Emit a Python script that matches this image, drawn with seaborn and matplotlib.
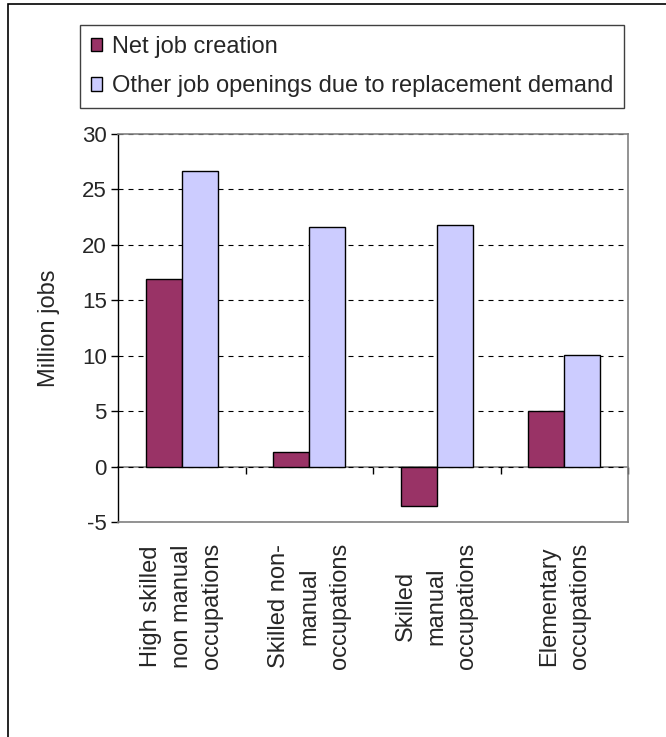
import pandas as pd
import matplotlib
matplotlib.use('Agg')
import matplotlib.pyplot as plt
import matplotlib.patches as mpatches
import seaborn as sns

# Dados
categorias = ['High skilled\nnon manual\noccupations',
              'Skilled non-\nmanual\noccupations',
              'Skilled\nmanual\noccupations',
              'Elementary\noccupations']
net_job = [16.9, 1.3, -3.6, 5.0]
replacement = [26.7, 21.6, 21.8, 10.1]
series = ['Net job creation', 'Other job openings due to replacement demand']
cores = ['#993366', '#CCCCFF']

df = pd.DataFrame({
    'categoria': categorias * 2,
    'valor': net_job + replacement,
    'serie': [series[0]] * 4 + [series[1]] * 4,
})

sns.set_style('white')
plt.rcParams['font.family'] = ['Liberation Sans', 'DejaVu Sans']
plt.rcParams['font.size'] = 17
plt.rcParams['axes.unicode_minus'] = False

W, H = 666, 737
fig = plt.figure(figsize=(W / 100, H / 100), dpi=100)
ax = fig.add_axes([118 / W, 1 - 522 / H, 510 / W, 388 / H])

sns.barplot(data=df, x='categoria', y='valor', hue='serie', palette=cores,
            width=0.565, edgecolor='black', linewidth=1.0, ax=ax,
            legend=False, errorbar=None, saturation=1)

ax.set_ylim(-5, 30)
ax.set_xlim(-0.5, 3.5)
ax.set_yticks(range(-5, 31, 5))
ax.set_ylabel('Million jobs', fontsize=17, labelpad=16)
ax.set_xlabel('')

# grade tracejada
ax.set_axisbelow(True)
ax.yaxis.grid(True, color='black', linewidth=0.8, linestyle=(0, (4.5, 4.5)))

# bordas
for s in ['top', 'right', 'bottom']:
    ax.spines[s].set_color('#808080')
    ax.spines[s].set_linewidth(1.2)
ax.spines['left'].set_color('black')
ax.spines['left'].set_linewidth(1.0)
ax.tick_params(axis='y', left=True, length=5, width=1, color='black',
               labelsize=16, pad=3)

# rótulos das categorias
ax.set_xticks(range(len(categorias)))
ax.set_xticklabels(categorias, rotation=90, ha='center', va='top',
                   multialignment='center', fontsize=17, linespacing=1.5)
ax.tick_params(axis='x', bottom=False, length=0, pad=15)

# eixo de categorias cruzando no zero
sec = ax.secondary_xaxis(5 / 35)
sec.set_xticks([0.5, 1.5, 2.5, 3.5])
sec.set_xticklabels([])
sec.tick_params(axis='x', direction='out', length=5, width=1, color='black')
sec.spines['bottom'].set_color('#808080')
sec.spines['bottom'].set_linewidth(1.2)

# legenda
handles = [mpatches.Patch(facecolor=c, edgecolor='black', linewidth=1.0, label=l)
           for c, l in zip(cores, series)]
leg = fig.legend(handles=handles, loc='upper left',
                 bbox_to_anchor=(80 / W, 1 - 25 / H), frameon=True,
                 fancybox=False, edgecolor='#404040', framealpha=1,
                 fontsize=17, handlelength=0.5, handleheight=0.5,
                 handletextpad=0.4, borderpad=0.45, labelspacing=0.75,
                 borderaxespad=0)
leg.get_frame().set_linewidth(1.0)

# moldura da figura (esquerda e topo)
fig.patches.append(mpatches.Rectangle((8 / W, -0.1), 1.2, 1 - 4 / H + 0.1,
                                      transform=fig.transFigure, fill=False,
                                      edgecolor='black', linewidth=1.2))

fig.savefig('out.png', dpi=100)
